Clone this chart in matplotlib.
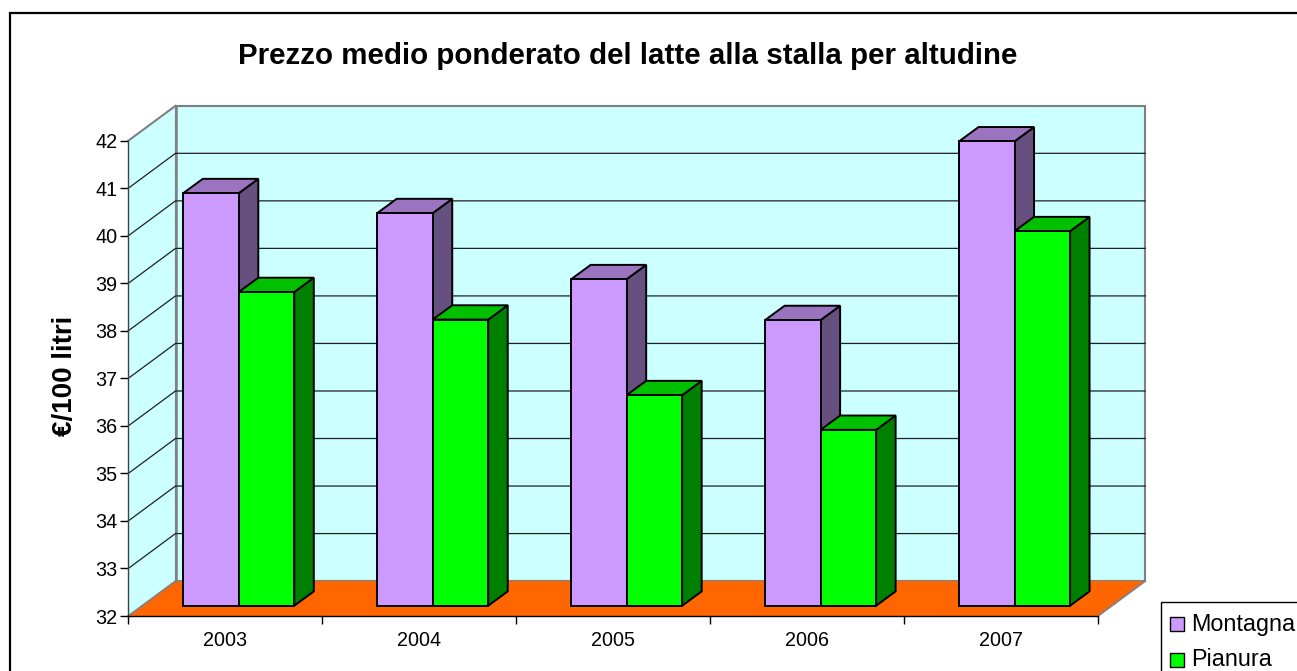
import numpy as np
import matplotlib
matplotlib.use("Agg")
import matplotlib.pyplot as plt
from matplotlib.patches import Polygon, Rectangle

W, H = 1297, 671
plt.rcParams["font.family"] = ["Liberation Sans", "DejaVu Sans"]

years = ["2003", "2004", "2005", "2006", "2007"]
montagna = [40.68, 40.26, 38.87, 38.01, 41.77]
pianura = [38.6, 38.02, 36.43, 35.7, 39.88]
y_ticks = list(range(32, 43))

PURPLE = ("#CC99FF", "#9A74BF", "#66507F")
GREEN = ("#00FF00", "#00C000", "#008000")

# front plane of the fake 3d box, in pixels
X0, X1 = 128.3, 1098.0
Y32, Y42 = 616.0, 140.7
ux = (X1 - X0) / 5
uy = (Y32 - Y42) / 10

fig = plt.figure(figsize=(W / 100, H / 100), dpi=100, facecolor="white")
ax = fig.add_axes([X0 / W, 1 - Y32 / H, (X1 - X0) / W, (Y32 - Y42) / H])
ax.set_xlim(0, 5)
ax.set_ylim(32, 42)
ax.patch.set_visible(False)

def ox(px):
    return px / ux

def oy(px):
    return px / uy

def poly(pts, fc, ec="black", lw=1.4, z=2):
    ax.add_patch(Polygon(pts, closed=True, facecolor=fc, edgecolor=ec, linewidth=lw,
                         zorder=z, clip_on=False, joinstyle="miter"))

DX, DY = ox(47.2), oy(34.9)
GREY = "#808080"

# walls and floor
poly([(0, 32), (DX, 32 + DY), (DX, 42 + DY), (0, 42)], "#CCFFFF", "none", z=1)
poly([(DX, 32 + DY), (5 + DX, 32 + DY), (5 + DX, 42 + DY), (DX, 42 + DY)], "#CCFFFF", GREY, 1.5, z=1)
poly([(0, 32), (5, 32), (5 + DX, 32 + DY), (DX, 32 + DY)], "#FF6600", "none", z=1.2)
ax.plot([0, DX], [32, 32 + DY], color=GREY, lw=1.3, zorder=1.4, clip_on=False)
ax.plot([5, 5 + DX], [32, 32 + DY], color=GREY, lw=1.3, zorder=1.4, clip_on=False)
ax.plot([0, DX], [42, 42 + DY], color=GREY, lw=1.5, zorder=1.4, clip_on=False)
ax.plot([DX, DX], [32 + DY, 42 + DY], color=GREY, lw=1.8, zorder=1.4, clip_on=False)

# gridlines run round the side wall and the back wall
for v in y_ticks[1:-1]:
    ax.plot([0, DX, 5 + DX], [v, v + DY, v + DY], color="#202020", lw=0.9, zorder=1.5, clip_on=False)

# bars
BW = ox(55.5)
FX, FY = ox(14.1), oy(10.3)
SX, SY = ox(19.5), oy(14.3)
GAP = ox(40.9)

def bar3d(left, val, cols):
    x0 = left + FX
    x1 = x0 + BW
    base = 32 + FY
    poly([(x1, base), (x1 + SX, base + SY), (x1 + SX, val + FY + SY), (x1, val + FY)], cols[2], z=3)
    poly([(x0, val + FY), (x1, val + FY), (x1 + SX, val + FY + SY), (x0 + SX, val + FY + SY)], cols[1], z=3)
    poly([(x0, base), (x1, base), (x1, val + FY), (x0, val + FY)], cols[0], z=3.1)

for i in range(len(years)):
    bar3d(i + GAP, montagna[i], PURPLE)
    bar3d(i + GAP + BW, pianura[i], GREEN)

# axes
ax.spines["top"].set_visible(False)
ax.spines["right"].set_visible(False)
ax.spines["left"].set_color("#404040")
ax.spines["left"].set_linewidth(1.0)
ax.spines["left"].set_zorder(4)
ax.spines["bottom"].set_color("black")
ax.spines["bottom"].set_linewidth(1.0)
ax.spines["bottom"].set_zorder(4)
ax.set_yticks(y_ticks)
ax.set_xticks(range(6))
ax.set_xticklabels([])
ax.set_xticks(np.arange(5) + 0.5, labels=years, minor=True)
ax.tick_params(axis="y", length=5.8, width=1.0, labelsize=14.2, pad=2.2, colors="black")
ax.tick_params(axis="x", which="major", length=5.8, width=1.0)
ax.tick_params(axis="x", which="minor", length=0, labelsize=14.2, pad=11)
ax.set_ylabel("€/100 litri", fontsize=20, fontweight="bold")
ax.yaxis.set_label_coords((78 - X0) / (X1 - X0), (Y32 - 376) / (Y32 - Y42))

# title, chart frame, legend: these sit outside the plot box
fig.text(627.5 / W, 1 - 55.5 / H, "Prezzo medio ponderato del latte alla stalla per altudine",
         ha="center", va="center", fontsize=21.25, fontweight="bold")
fig.add_artist(Rectangle((9.5 / W, 1 - 690 / H), 1400 / W, 677 / H, transform=fig.transFigure,
                         facecolor="none", edgecolor="black", linewidth=1.6))
fig.add_artist(Rectangle((1160.5 / W, 1 - 690 / H), 240 / W, 88 / H, transform=fig.transFigure,
                         facecolor="white", edgecolor="black", linewidth=1.0, zorder=5))
for name, col, ypx in [("Montagna", PURPLE[0], 624), ("Pianura", GREEN[0], 660)]:
    fig.add_artist(Rectangle((1169.5 / W, 1 - (ypx + 7) / H), 14 / W, 14 / H, transform=fig.transFigure,
                             facecolor=col, edgecolor="black", linewidth=1.0, zorder=6))
    fig.text(1191.5 / W, 1 - ypx / H, name, ha="left", va="center", fontsize=16.8, zorder=6)

fig.savefig("out.png", dpi=100)
